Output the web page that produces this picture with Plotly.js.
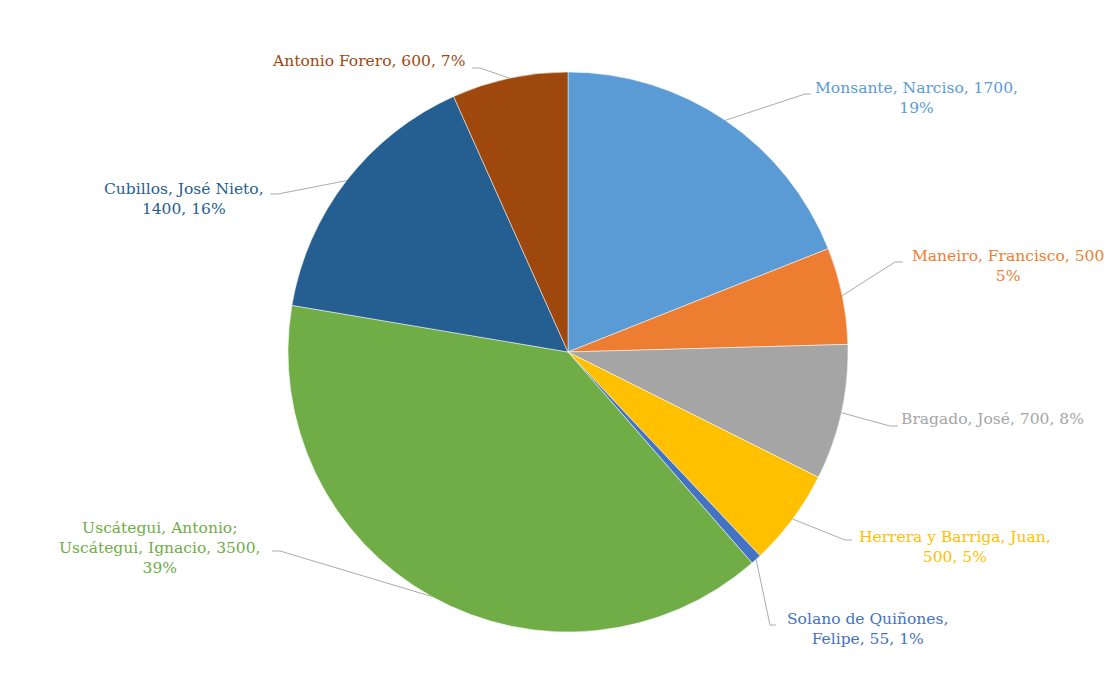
<!DOCTYPE html>
<html>
<head>
<meta charset="utf-8">
<script src="https://cdn.plot.ly/plotly-3.0.1.min.js"></script>
<style>html,body{margin:0;padding:0;background:#fff;}#chart{width:1111px;height:681px;}</style>
</head>
<body>
<div id="chart"></div>
<script>
// ---- data ----
const names = ["Monsante, Narciso", "Maneiro, Francisco", "Bragado, José", "Herrera y Barriga, Juan",
  "Solano de Quiñones, Felipe", "Uscátegui, Antonio; Uscátegui, Ignacio", "Cubillos, José Nieto", "Antonio Forero"];
const values = [1700, 500, 700, 500, 55, 3500, 1400, 600];
const pctLabels = ["19%", "5%", "8%", "5%", "1%", "39%", "16%", "7%"];
const labelTexts = [
  "Monsante, Narciso, 1700,<br>19%",
  "Maneiro, Francisco, 500<br>5%",
  "Bragado, José, 700, 8%",
  "Herrera y Barriga, Juan,<br>500, 5%",
  "Solano de Quiñones,<br>Felipe, 55, 1%",
  "Uscátegui, Antonio;<br>Uscátegui, Ignacio, 3500,<br>39%",
  "Cubillos, José Nieto,<br>1400, 16%",
  "Antonio Forero, 600, 7%"
];
const colors = ["#5B9BD5", "#ED7D31", "#A5A5A5", "#FFC000", "#4472C4", "#70AD47", "#255E91", "#9E480E"];

// ---- layout constants (pixels) ----
const W = 1111, H = 681;
const CX = 568, CY = 352, R = 280;
// label centres and leader-line elbow/end points (pixels)
const labelPos = [[916, 98], [1008, 266], [992, 419], [955, 547], [867, 629], [160, 548], [184, 199], [368, 61]];
const leaderPts = [
  [[805, 94], [811, 94]],
  [[895, 262], [903, 262]],
  [[890, 426], [898, 426]],
  [[845, 540], [852, 540]],
  [[770, 625], [776, 625]],
  [[280, 551], [272, 551]],
  [[278, 194], [270, 194]],
  [[480, 68], [472, 68]]
];

const px = x => x / W;
const py = y => 1 - y / H;

const total = values.reduce((a, b) => a + b, 0);
let cum = 0;
const shapes = [], annotations = [];
values.forEach((v, i) => {
  const mid = (cum + v / 2) / total * 2 * Math.PI;
  cum += v;
  const ex = CX + R * Math.sin(mid), ey = CY - R * Math.cos(mid);
  let path = `M ${px(ex)} ${py(ey)}`;
  leaderPts[i].forEach(p => { path += ` L ${px(p[0])} ${py(p[1])}`; });
  shapes.push({type: 'path', xref: 'paper', yref: 'paper', path: path,
    line: {color: '#ABABAB', width: 1}});
  annotations.push({xref: 'paper', yref: 'paper', x: px(labelPos[i][0]), y: py(labelPos[i][1]),
    xanchor: 'center', yanchor: 'middle', align: 'center', showarrow: false,
    text: labelTexts[i], font: {family: 'DejaVu Serif', size: 15.5, color: colors[i]}});
});

const trace = {
  type: 'pie', labels: names, values: values, sort: false, direction: 'clockwise', rotation: 0,
  textinfo: 'none', hoverinfo: 'label+value+percent', showlegend: false,
  marker: {colors: colors, line: {color: '#ffffff', width: 0.5}},
  domain: {x: [(CX - R) / W, (CX + R) / W], y: [1 - (CY + R) / H, 1 - (CY - R) / H]}
};

const layout = {
  width: W, height: H, margin: {l: 0, r: 0, t: 0, b: 0},
  paper_bgcolor: '#ffffff', plot_bgcolor: '#ffffff',
  showlegend: false, shapes: shapes, annotations: annotations,
  font: {family: 'DejaVu Serif'}
};

Plotly.newPlot('chart', [trace], layout, {displayModeBar: false, staticPlot: true});
</script>
</body>
</html>
